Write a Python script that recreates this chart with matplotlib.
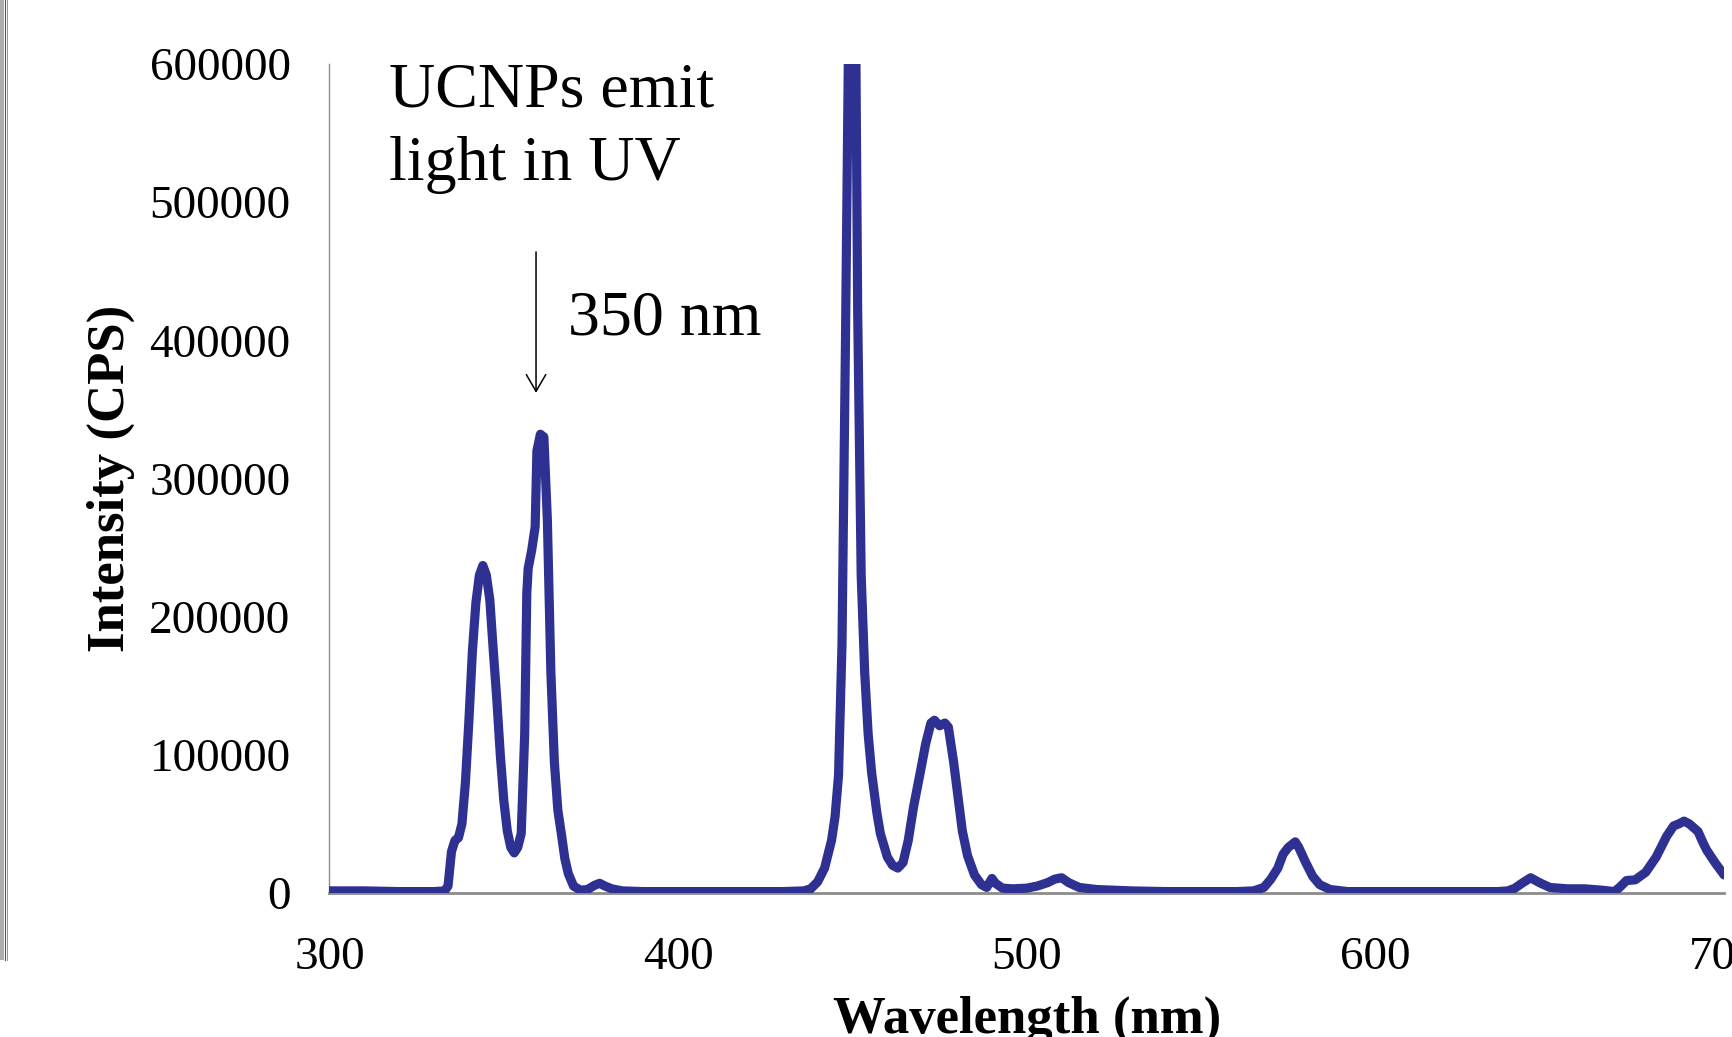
import matplotlib.pyplot as plt
from matplotlib.patches import Rectangle
from matplotlib.lines import Line2D

# spectrum (wavelength in nm, intensity in CPS)
wavelength = [
    300, 310, 320, 330, 333, 334, 335, 336, 337, 338, 339, 340, 341, 342, 343,
    344, 345, 346, 347, 348, 349, 350, 351, 352, 353, 354, 355, 356, 356.6, 357,
    358, 359, 359.5, 360.5, 361.5, 362.5, 363.5, 364.5, 365.5, 366.5, 367.5,
    368.5, 370, 372, 374, 376, 377.5, 379, 381, 384, 390, 400, 410, 420, 430,
    436, 438, 440, 442, 444, 445, 446, 447, 448, 449, 450, 451, 451.5, 452.5,
    453.5, 454.5, 455.5, 457, 458, 460, 461.5, 463, 464.5, 466, 467.5, 469.5,
    471, 472.5, 473.5, 475, 476.5, 477.5, 479, 480, 481.5, 483, 485, 487,
    488.5, 490, 491, 493, 496, 500, 503, 506, 508, 510, 512, 515, 520, 530,
    540, 550, 560, 565, 568, 570, 572, 573.5, 575, 577, 578, 580, 582, 584,
    587, 592, 600, 620, 635, 638, 640, 642, 644.5, 647, 650, 655, 660, 665,
    668.5, 670, 672, 674.5, 677.5, 680.5, 683.5, 685.5, 687, 688.5, 690,
    692.5, 694, 695, 697.5, 700,
]
intensity = [
    1500, 1500, 1000, 1000, 1500, 5000, 30000, 38000, 40000, 50000, 80000,
    125000, 175000, 210000, 230000, 237000, 230000, 212000, 175000, 140000,
    100000, 67000, 45000, 33000, 29000, 33000, 43000, 115000, 217000, 235000,
    248000, 265000, 320000, 332000, 330000, 270000, 160000, 95000, 60000,
    43000, 25000, 14000, 5000, 2000, 2500, 5500, 7000, 5000, 3000, 1500, 1000,
    1000, 1000, 1000, 1000, 1500, 3000, 8000, 18000, 38000, 55000, 85000,
    180000, 400000, 650000, 680000, 600000, 420000, 230000, 160000, 115000,
    87000, 58000, 43000, 26000, 20000, 18000, 22000, 38000, 62000, 88000,
    108000, 123000, 125000, 121000, 123000, 120000, 95000, 75000, 45000,
    27000, 13000, 6000, 4000, 10500, 7000, 3500, 3000, 3500, 5000, 7500,
    10000, 11000, 7500, 4000, 2500, 1500, 1000, 1000, 1000, 1500, 4000,
    10000, 18000, 28000, 33000, 37000, 33000, 22000, 12000, 6000, 2500, 1000,
    1000, 1000, 1000, 1500, 3500, 7000, 11000, 7500, 4000, 3000, 3000, 2000,
    1000, 4000, 9000, 9500, 15000, 26000, 41000, 48500, 50000, 52000, 50000,
    44500, 36000, 31000, 21500, 13000,
]
x_ticks = [300, 400, 500, 600, 700]
y_ticks = [0, 100000, 200000, 300000, 400000, 500000, 600000]

serif = ["Liberation Serif", "DejaVu Serif"]
plt.rcParams["font.family"] = serif

fig = plt.figure(figsize=(17.33, 10.37), dpi=100)
ax = fig.add_axes([0.1901, 0.1389, 0.8048, 0.7994])

ax.plot(wavelength, intensity, color="#2E3192", lw=6.6, zorder=3,
        solid_joinstyle="round", solid_capstyle="round")

ax.set_xlim(300, 700)
ax.set_ylim(0, 600000)
ax.set_xticks(x_ticks)
ax.set_yticks(y_ticks)
ax.tick_params(axis="x", length=0, pad=31, labelsize=34)
ax.tick_params(axis="y", length=0, pad=28, labelsize=34)

for side in ["top", "right"]:
    ax.spines[side].set_visible(False)
ax.spines["left"].set_color("#8c8c8c")
ax.spines["left"].set_linewidth(1.0)
ax.spines["bottom"].set_color("#8c8c8c")
ax.spines["bottom"].set_linewidth(2.0)

ax.set_xlabel("Wavelength (nm)", fontsize=38, fontweight="bold", va="baseline")
ax.xaxis.set_label_coords(0.5, -0.169)
ax.set_ylabel("Intensity (CPS)", fontsize=38, fontweight="bold", va="center")
ax.yaxis.set_label_coords(-0.157, 0.5)

# annotations
ax.text(317.1, 569000, "UCNPs emit", fontsize=46, va="baseline", ha="left")
ax.text(317.1, 516000, "light in UV", fontsize=46, va="baseline", ha="left")
ax.text(368.4, 404000, "350 nm", fontsize=46, va="baseline", ha="left")
ax.annotate("", xy=(359.25, 362000), xytext=(359.25, 464000),
            arrowprops=dict(arrowstyle="->,head_length=0.6,head_width=0.35",
                            color="black", lw=1.1, mutation_scale=20,
                            shrinkA=0, shrinkB=0))

# thin border strip at the left edge of the picture
fig.add_artist(Rectangle((0, 0.0743), 4 / 1733, 0.9257, transform=fig.transFigure,
                         facecolor="#b0acb0", edgecolor="none"))
fig.add_artist(Line2D([4.5 / 1733, 4.5 / 1733], [0.0743, 1], transform=fig.transFigure,
                      color="#5e4e60", lw=0.8))
fig.add_artist(Line2D([7 / 1733, 7 / 1733], [0.0743, 1], transform=fig.transFigure,
                      color="#a090a4", lw=0.7))

fig.savefig("out.png", dpi=100)
